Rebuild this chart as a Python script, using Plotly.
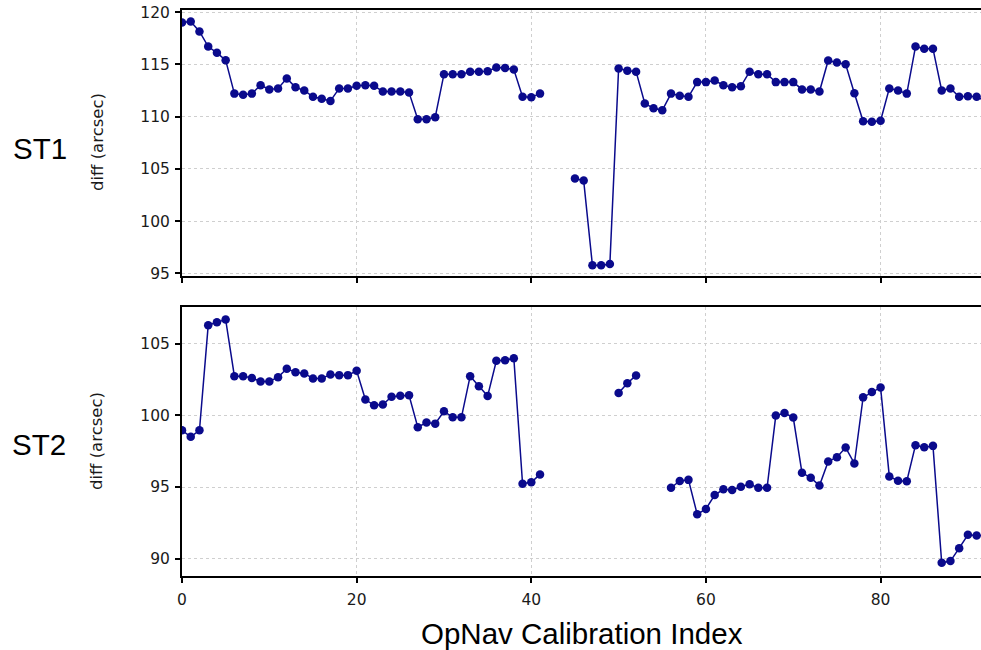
import plotly.graph_objects as go

# Calibration index (0..92) and per-sensor differences in arcsec; None = no solution
index = list(range(93))

st1_diff = [
    119.0, 119.1, 118.15, 116.7, 116.1, 115.4, 112.2, 112.1, 112.2, 113.0,
    112.6, 112.7, 113.65, 112.8, 112.5, 111.9, 111.7, 111.5, 112.7, 112.7,
    112.95, 113.0, 112.95, 112.4, 112.4, 112.4, 112.3, 109.75, 109.75, 109.95,
    114.06, 114.06, 114.06, 114.3, 114.3, 114.35, 114.7, 114.65, 114.5, 111.9,
    111.85, 112.2, None, None, None, 104.07, 103.88, 95.77, 95.77, 95.9,
    114.6, 114.4, 114.3, 111.25, 110.8, 110.6, 112.2, 112.0, 111.9, 113.3,
    113.3, 113.45, 113.0, 112.8, 112.9, 114.3, 114.06, 114.06, 113.3, 113.3,
    113.3, 112.6, 112.6, 112.4, 115.37, 115.18, 115.0, 112.24, 109.56, 109.5,
    109.6, 112.7, 112.5, 112.2, 116.7, 116.5, 116.5, 112.5, 112.7, 111.9,
    111.95, 111.9, 111.5,
]

st2_diff = [
    98.96, 98.5, 98.96, 106.27, 106.48, 106.67, 102.73, 102.73, 102.6, 102.36,
    102.36, 102.66, 103.24, 103.0, 102.92, 102.57, 102.57, 102.85, 102.8, 102.8,
    103.1, 101.1, 100.7, 100.75, 101.3, 101.37, 101.4, 99.17, 99.5, 99.42,
    100.28, 99.86, 99.86, 102.73, 102.03, 101.34, 103.8, 103.83, 103.98, 95.23,
    95.33, 95.88, None, None, None, None, None, None, None, None,
    101.55, 102.24, 102.78, None, None, None, 94.95, 95.42, 95.5, 93.1,
    93.47, 94.44, 94.84, 94.79, 95.02, 95.19, 94.95, 94.95, 99.98, 100.16,
    99.84, 95.99, 95.65, 95.1, 96.78, 97.08, 97.75, 96.64, 101.25, 101.62,
    101.94, 95.74, 95.44, 95.4, 97.92, 97.78, 97.87, 89.72, 89.84, 90.74,
    91.67, 91.62, 91.62,
]

x_ticks = [0, 20, 40, 60, 80]
st1_ticks = [95, 100, 105, 110, 115, 120]
st2_ticks = [90, 95, 100, 105]

LINE = "#0a0a8c"
TICK_FONT = dict(family="DejaVu Sans", size=15.5, color="#1a1a1a")

fig = go.Figure()
for y, ax in [(st1_diff, ("x", "y")), (st2_diff, ("x2", "y2"))]:
    fig.add_trace(go.Scatter(
        x=index, y=y, xaxis=ax[0], yaxis=ax[1],
        mode="lines+markers",
        line=dict(color=LINE, width=1.5),
        marker=dict(color=LINE, size=8.5),
        connectgaps=False, showlegend=False,
    ))

common_x = dict(
    range=[0, 91.5], tickvals=x_ticks, ticks="outside", ticklen=5, tickwidth=1.5,
    tickcolor="black", showline=True, linecolor="black", linewidth=2, mirror=True,
    showgrid=True, gridcolor="#cfcfcf", griddash="dot", gridwidth=1, zeroline=False,
    tickfont=TICK_FONT,
)
common_y = dict(
    ticks="outside", ticklen=5, tickwidth=1.5, tickcolor="black",
    showline=True, linecolor="black", linewidth=2,
    showgrid=True, gridcolor="#cfcfcf", griddash="dot", gridwidth=1, zeroline=False,
    tickfont=TICK_FONT, ticklabelstandoff=2,
)

fig.update_layout(
    width=981, height=650,
    margin=dict(l=182, r=0, t=10, b=74),
    plot_bgcolor="white", paper_bgcolor="white",
    xaxis=dict(common_x, domain=[0, 1], anchor="y", showticklabels=False),
    yaxis=dict(common_y, domain=[0.530, 1.0], range=[94.75, 120.2], tickvals=st1_ticks),
    xaxis2=dict(common_x, domain=[0, 1], anchor="y2", ticklabelstandoff=3),
    yaxis2=dict(common_y, domain=[0.0, 0.4753], range=[88.8, 107.55], tickvals=st2_ticks),
    annotations=[
        dict(text="ST1", x=40, y=149, showarrow=False,
             font=dict(family="Liberation Sans", size=29.5, color="black")),
        dict(text="ST2", x=39, y=444, showarrow=False,
             font=dict(family="Liberation Sans", size=29.5, color="black")),
        dict(text="diff (arcsec)", x=97, y=142, showarrow=False, textangle=-90,
             font=dict(family="DejaVu Sans", size=16.5, color="#1a1a1a")),
        dict(text="diff (arcsec)", x=96, y=441, showarrow=False, textangle=-90,
             font=dict(family="DejaVu Sans", size=16.5, color="#1a1a1a")),
        dict(text="OpNav Calibration Index", x=582, y=633, showarrow=False,
             font=dict(family="Liberation Sans", size=29.5, color="black")),
    ],
)

# Annotations above are placed in pixel coordinates of the page
W, H = 981, 650
l, r, t, b = 182, 0, 10, 74
for a in fig.layout.annotations:
    px, py = a.x, a.y
    a.xref = "paper"
    a.yref = "paper"
    a.x = (px - l) / (W - l - r)
    a.y = (H - b - py) / (H - t - b)
    a.xanchor = "center"
    a.yanchor = "middle"

fig.write_html("out.html")
